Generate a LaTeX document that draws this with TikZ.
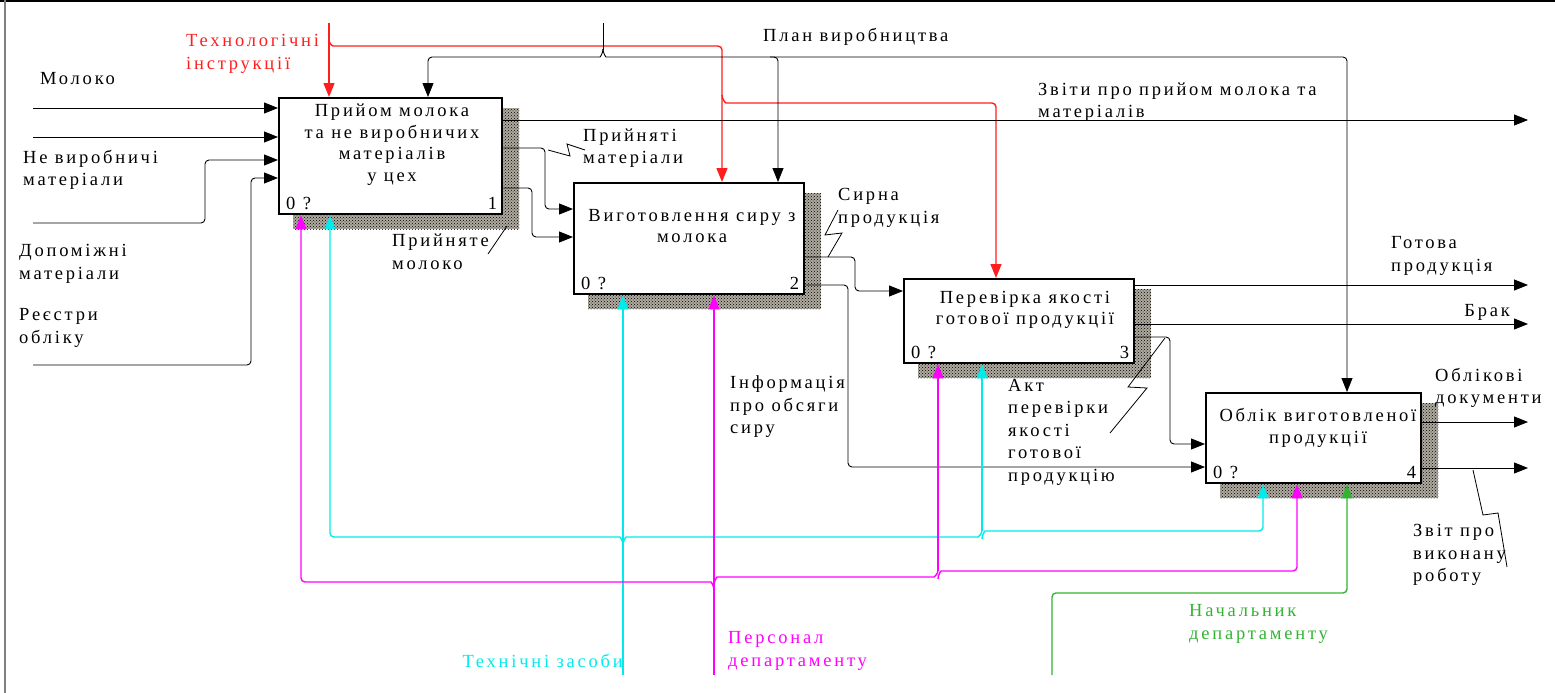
\documentclass[tikz,border=0pt]{standalone}
\usepackage{fontspec}
\setmainfont{Liberation Serif}[LetterSpace=15]
\usetikzlibrary{arrows.meta,patterns,calc,backgrounds}
\definecolor{cR}{RGB}{255,30,30}
\definecolor{cC}{RGB}{0,235,235}
\definecolor{cM}{RGB}{255,0,255}
\definecolor{cG}{RGB}{50,180,50}
\definecolor{shbg}{RGB}{175,170,160}
\tikzset{
  box/.style={draw, line width=2.4pt, fill=white, inner sep=0pt, anchor=north west},
  lbl/.style={font=\fontsize{18.5}{22.5}\selectfont, inner sep=0pt, align=left, anchor=west},
  ttl/.style={font=\fontsize{18.5}{21.5}\selectfont, inner sep=0pt, align=center},
  conn/.style={line width=0.9pt, rounded corners=4pt},
  arr/.style={conn, -{Triangle[length=14pt,width=11pt]}},
  mech/.style={line width=1.4pt},
  squig/.style={line width=0.8pt},
  shadowfill/.style={fill=shbg, postaction={pattern=crosshatch dots, pattern color=black}}
}
\begin{document}
\begin{tikzpicture}[x=1pt,y=-1pt]
\useasboundingbox (0,0) rectangle (1555,693);
\draw[line width=1.6pt] (0,0.8) -- (1555,0.8);
\draw[line width=1.5pt, gray] (5,0) -- (5,693);

% boxes
\node[box, minimum width=223pt, minimum height=116pt] (b1) at (278,97) {};
\node[box, minimum width=230pt, minimum height=111pt] (b2) at (573,182) {};
\node[box, minimum width=230pt, minimum height=84pt] (b3) at (903,278) {};
\node[box, minimum width=215pt, minimum height=90pt] (b4) at (1205,392) {};

\begin{scope}[on background layer]
\foreach \b in {b1,b2,b3,b4}{
  \path[shadowfill] ($(\b.north west)+(15,11)$) rectangle ($(\b.south east)+(16,14)$);
}
\end{scope}

% titles
\node[ttl] (t1) at (392,144.5) {Прийом молока\\та не виробничих\\матеріалів\\у цех};
\node[ttl] (t2) at (692,226) {Виготовлення сиру з\\молока};
\node[ttl] (t3) at (1025,310) {Перевірка якості\\готової продукції};
\node[ttl] (t4) at (1318,428) {Облік виготовленої\\продукції};
\foreach \b/\n in {b1/1,b2/2,b3/3,b4/4}{
  \node[lbl] (\b z) at ($(\b.south west)+(8,-12)$) {0 ?};
  \node[lbl, anchor=east] (\b n) at ($(\b.south east)+(-6,-12)$) {\n};
}

% free ends
\coordinate (i1) at (33,108);
\coordinate (i2) at (33,137);
\coordinate (i3) at (33,223);
\coordinate (i4) at (33,365);
\coordinate (tech) at (329,23);
\coordinate (plan) at (603,23);
\coordinate (o1) at (1528,120);
\coordinate (o2) at (1528,285);
\coordinate (o3) at (1528,324);
\coordinate (o4) at (1528,422);
\coordinate (o5) at (1528,468);
\coordinate (m1) at (623,675);
\coordinate (m2) at (714,675);
\coordinate (m3) at (1052,675);

% inputs of box 1
\draw[arr] (i1) -- (b1.west |- i1);
\draw[arr] (i2) -- (b1.west |- i2);
\draw[arr] (i3) -- (205,223) -- (205,160) -- (b1.west |- 0,160);
\draw[arr] (i4) -- (251,365) -- (251,178) -- (b1.west |- 0,178);

% controls
\draw[arr, mech, color=cR] (tech) -- (329,0 |- b1.north);
\draw[arr, mech, color=cR] (329,40) to[out=-90,in=180] (337,46) -- (722,46) -- (722,0 |- b2.north);
\draw[arr, mech, color=cR] (722,95) to[out=-90,in=180] (730,103) -- (996,103) -- (996,0 |- b3.north);
\draw[conn] (plan) -- (603,50);
\draw[arr] (603,49) to[out=-90,in=0] (596,57) -- (428,57) -- (428,0 |- b1.north);
\draw[arr] (603,49) to[out=-90,in=180] (610,57) -- (778,57) -- (778,0 |- b2.north);
\draw[arr] (770,57) -- (1347,57) -- (1347,0 |- b4.north);

% outputs
\draw[arr] (b1.east |- o1) -- (o1);
\draw[arr] (b1.east |- 0,148) -- (545,148) -- (545,209) -- (b2.west |- 0,209);
\draw[arr] (b1.east |- 0,188) -- (532,188) -- (532,237) -- (b2.west |- 0,237);
\draw[arr] (b2.east |- 0,257) -- (855,257) -- (855,291) -- (b3.west |- 0,291);
\draw[arr] (b2.east |- 0,285) -- (848,285) -- (848,467) -- (b4.west |- 0,467);
\draw[arr] (b3.east |- o2) -- (o2);
\draw[arr] (b3.east |- o3) -- (o3);
\draw[arr] (b3.east |- 0,337) -- (1170,337) -- (1170,444) -- (b4.west |- 0,444);
\draw[arr] (b4.east |- o4) -- (o4);
\draw[arr] (b4.east |- o5) -- (o5);

% mechanisms
\draw[arr, mech, color=cC] (m1) -- (623,0 |- b2.south);
\draw[arr, mech, color=cC] (623,545) to[out=90,in=0] (616,537) -- (330,537) -- (330,0 |- b1.south);
\draw[conn, mech, color=cC] (623,545) to[out=90,in=180] (630,537) -- (974,537) to[out=0,in=-90] (982,530);
\draw[arr, mech, color=cC] (982,531) -- (982,0 |- b3.south);
\draw[arr, mech, color=cC] (982,539) to[out=90,in=180] (989,531) -- (1263,531) -- (1263,0 |- b4.south);
\draw[arr, mech, color=cM] (m2) -- (714,0 |- b2.south);
\draw[arr, mech, color=cM] (714,590) to[out=90,in=0] (707,582) -- (301,582) -- (301,0 |- b1.south);
\draw[conn, mech, color=cM] (714,585) to[out=90,in=180] (721,577) -- (930,577) to[out=0,in=-90] (938,570);
\draw[arr, mech, color=cM] (938,571) -- (938,0 |- b3.south);
\draw[arr, mech, color=cM] (938,579) to[out=90,in=180] (945,571) -- (1297,571) -- (1297,0 |- b4.south);
\draw[arr, mech, color=cG] (m3) -- (1052,593) -- (1347,593) -- (1347,0 |- b4.south);

% squiggles
\draw[squig] (548,150) -- (570,156) -- (567,144) -- (585,150);
\draw[squig] (828,257) -- (842,233) -- (825,235) -- (838,210);
\draw[squig] (1110,433) -- (1147,388) -- (1128,387) -- (1165,338);
\draw[squig] (1473,470) -- (1483,515) -- (1498,513) -- (1507,567);
\draw[squig] (488,254) -- (507,226);

% labels
\node[lbl] (l1) at (40,79) {Молоко};
\node[lbl] (l2) at (23,170) {Не виробничі\\матеріали};
\node[lbl] (l3) at (19,264) {Допоміжні\\матеріали};
\node[lbl] (l4) at (19,328) {Реєстри\\обліку};
\node[lbl, text=cR] (l5) at (186,54) {Технологічні\\інструкції};
\node[lbl] (l6) at (763,37) {План виробництва};
\node[lbl] (l7) at (1038,102) {Звіти про прийом молока та\\матеріалів};
\node[lbl] (l8) at (583,148) {Прийняті\\матеріали};
\node[lbl] (l9) at (392,252) {Прийняте\\молоко};
\node[lbl] (l10) at (838,208) {Сирна\\продукція};
\node[lbl] (l11) at (1391,256) {Готова\\продукція};
\node[lbl, anchor=east] (l12) at (1510,312) {Брак};
\node[lbl] (l13) at (730,407) {Інформація\\про обсяги\\сиру};
\node[lbl] (l14) at (1008,432) {Акт\\перевірки\\якості\\готової\\продукцію};
\node[lbl] (l15) at (1435,388) {Облікові\\документи};
\node[lbl] (l16) at (1413,555) {Звіт про\\виконану\\роботу};
\node[lbl, text=cC, anchor=east] (l17) at (623,661) {Технічні засоби};
\node[lbl, text=cM] (l18) at (728,651) {Персонал\\департаменту};
\node[lbl, text=cG] (l19) at (1189,624) {Начальник\\департаменту};
\end{tikzpicture}
\end{document}
